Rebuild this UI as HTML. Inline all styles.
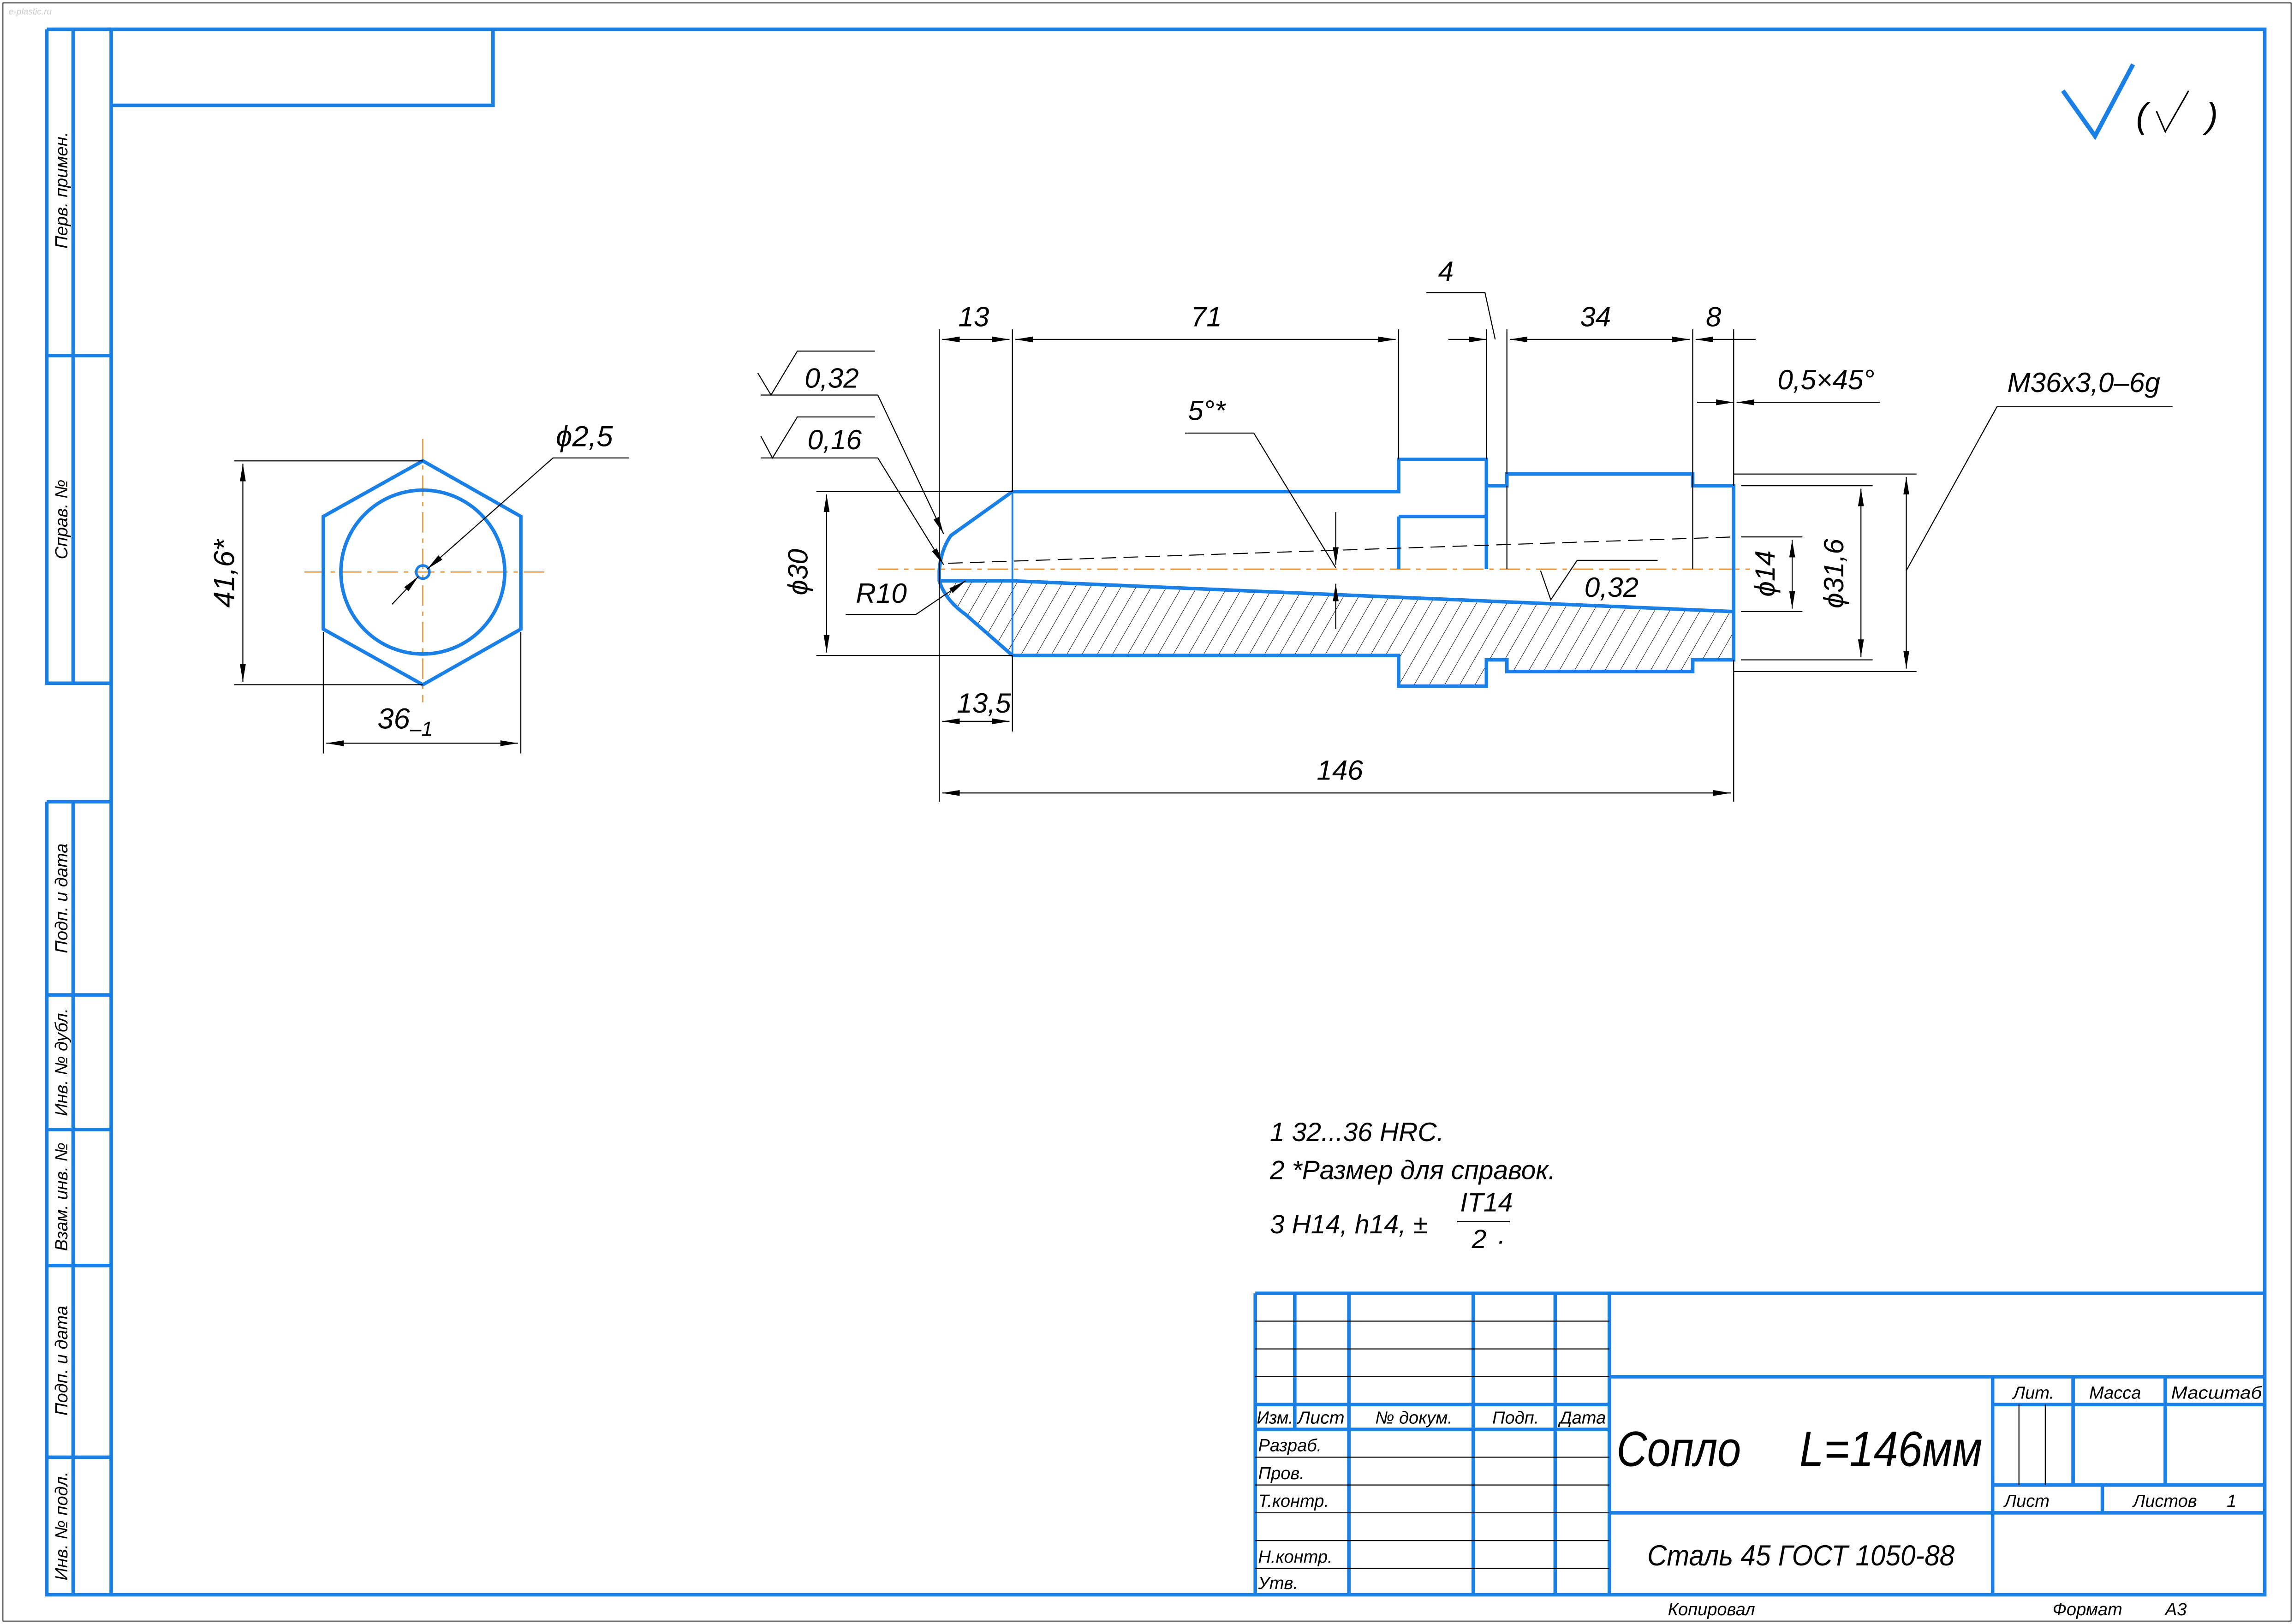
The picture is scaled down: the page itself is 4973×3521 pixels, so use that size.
<!DOCTYPE html>
<html><head><meta charset="utf-8"><style>
html,body{margin:0;padding:0;background:#fff;}
svg{display:block;}
text{font-family:"Liberation Sans",sans-serif;font-style:italic;fill:#000;}
</style></head><body>
<svg width="4973" height="3521" viewBox="0 0 1568 1110" preserveAspectRatio="none" xmlns="http://www.w3.org/2000/svg">
<defs>
<marker id="a" viewBox="0 0 12 4" refX="12" refY="2" markerWidth="12" markerHeight="4" markerUnits="userSpaceOnUse" orient="auto-start-reverse"><path d="M0,0 L12,2 L0,4 z" fill="#000"/></marker>
<pattern id="h" patternUnits="userSpaceOnUse" width="9" height="9" patternTransform="rotate(30)"><line x1="0" y1="0" x2="0" y2="9" stroke="#000" stroke-width="0.6"/></pattern>
<clipPath id="hc"><path d="M642,397 L692,397 L1185,418 L1185,451 L1157,451 L1157,459 L1030,459 L1030,451 L1016,451 L1016,469 L956,469 L956,448 L692,448 L660,420 Q645,405 642,397 Z"/></clipPath>
</defs>
<rect width="1568" height="1110" fill="#fff"/>
<rect x="2" y="2" width="1564" height="1106" fill="none" stroke="#000" stroke-width="0.6"/>
<g stroke="#1a80e6" stroke-width="2.4" fill="none">
<rect x="76" y="20" width="1472" height="1070"/>
<path d="M76,72 H337 V20"/>
<path d="M32,20 H76 M32,20 V467 H76 M50,20 V467 M32,243 H76"/>
<path d="M32,548 H76 M32,548 V1090 H76 M50,548 V1090 M32,680 H76 M32,772 H76 M32,865 H76 M32,996 H76"/>
<path d="M858,884 H1548 M858,884 V1090 M885,884 V977 M922,884 V1090 M1007,884 V1090 M1063,884 V1090 M1100,884 V1090"/>
<path d="M858,960 H1100 M858,977 H1100 M1100,941 H1548 M1100,1034 H1548 M1362,941 V1090 M1362,960 H1548 M1417,941 V1015 M1480,941 V1015 M1362,1015 H1548 M1437,1015 V1034"/>
<path d="M1410,62 L1432,93 L1458,44" stroke-width="3"/>
</g>
<g stroke="#000" stroke-width="0.7" fill="none">
<path d="M858,903 H1100 M858,922 H1100 M858,941 H1100 M858,996 H1100 M858,1015 H1100 M858,1034 H1100 M858,1053 H1100 M858,1072 H1100"/>
<path d="M1380,960 V1015 M1398,960 V1015"/>
<path d="M1474,76 L1480,90 L1496,62" stroke-width="1"/>
</g>
<text x="1460" y="87" font-size="24">(</text><text x="1508" y="87" font-size="24">)</text>
<g font-size="12">
<text transform="translate(46,130) rotate(-90)" text-anchor="middle">Перв. примен.</text>
<text transform="translate(46,355) rotate(-90)" text-anchor="middle">Справ. №</text>
<text transform="translate(46,614) rotate(-90)" text-anchor="middle">Подп. и дата</text>
<text transform="translate(46,726) rotate(-90)" text-anchor="middle">Инв. № дубл.</text>
<text transform="translate(46,818) rotate(-90)" text-anchor="middle">Взам. инв. №</text>
<text transform="translate(46,930) rotate(-90)" text-anchor="middle">Подп. и дата</text>
<text transform="translate(46,1043) rotate(-90)" text-anchor="middle">Инв. № подл.</text>
</g>
<g font-size="12">
<text x="859" y="973" textLength="25" lengthAdjust="spacingAndGlyphs">Изм.</text>
<text x="887" y="973" textLength="32" lengthAdjust="spacingAndGlyphs">Лист</text>
<text x="940" y="973">№ докум.</text>
<text x="1020" y="973">Подп.</text>
<text x="1066" y="973">Дата</text>
<text x="860" y="992">Разраб.</text>
<text x="860" y="1011">Пров.</text>
<text x="860" y="1030">Т.контр.</text>
<text x="860" y="1068">Н.контр.</text>
<text x="860" y="1086">Утв.</text>
<text x="1376" y="956">Лит.</text>
<text x="1428" y="956">Масса</text>
<text x="1484" y="956" textLength="62" lengthAdjust="spacingAndGlyphs">Масштаб</text>
<text x="1370" y="1030">Лист</text>
<text x="1458" y="1030">Листов</text><text x="1522" y="1030">1</text>
<text x="1140" y="1104">Копировал</text>
<text x="1403" y="1104">Формат</text><text x="1480" y="1104">А3</text>
</g>
<text x="1105" y="1002" font-size="34" textLength="85" lengthAdjust="spacingAndGlyphs">Сопло</text>
<text x="1230" y="1002" font-size="34" textLength="125" lengthAdjust="spacingAndGlyphs">L=146мм</text>
<text x="1126" y="1070" font-size="20" textLength="210" lengthAdjust="spacingAndGlyphs">Сталь 45 ГОСТ 1050-88</text>
<g font-size="18">
<text x="868" y="780">1  32...36 HRC.</text>
<text x="868" y="806">2  *Размер для справок.</text>
<text x="868" y="843">3  H14, h14, ±</text>
<text x="998" y="828">IT14</text>
<text x="1006" y="853">2</text><text x="1024" y="850">.</text>
</g>
<line x1="996" y1="835" x2="1032" y2="835" stroke="#000" stroke-width="0.8"/>
<g stroke="#e88a2a" stroke-width="0.8" stroke-dasharray="14,4,3,4" fill="none">
<path d="M208,391 H372 M289,300 V480"/>
<path d="M600,389 H1200"/>
</g>
<g stroke="#1a80e6" stroke-width="2.4" fill="none">
<path d="M289,315 L356,353 L356,430 L289,468 L221,430 L221,353 Z"/>
<circle cx="289" cy="391" r="56"/>
<circle cx="289" cy="391" r="4.5" stroke-width="1.8"/>
</g>
<g stroke="#000" stroke-width="0.7" fill="none">
<path d="M160,315 H289 M160,468 H289"/>
<path d="M166,317 V466" marker-start="url(#a)" marker-end="url(#a)"/>
<path d="M221,432 V515 M356,432 V515"/>
<path d="M223,508 H354" marker-start="url(#a)" marker-end="url(#a)"/>
<path d="M430,313 H378 L292,389" marker-end="url(#a)"/>
<path d="M268,413 L286,394" marker-end="url(#a)"/>
</g>
<text transform="translate(160,392) rotate(-90)" font-size="20" text-anchor="middle">41,6*</text>
<text x="258" y="498" font-size="20">36<tspan font-size="14" dy="5">–1</tspan></text>
<text x="380" y="305" font-size="20">ϕ2,5</text>
<rect x="630" y="390" width="570" height="90" fill="url(#h)" clip-path="url(#hc)"/>
<g stroke="#1a80e6" stroke-width="2.4" fill="none" stroke-linejoin="miter">
<path d="M692,336 H956 V314 H1016 V332 H1030 V324 H1157 V332 H1185 V451 H1157 V459 H1030 V451 H1016 V469 H956 V448 H692"/>
<path d="M692,336 L650,366 Q643,376 642,390 L642,397 Q646,410 660,420 L692,448"/>
<path d="M956,353 H1016 M956,353 V389 M1016,332 V389"/>
<path d="M642,397 H692 L1185,418"/>
<path d="M692,336 V448" stroke-width="1.2"/>
</g>
<g stroke="#000" stroke-width="0.7" fill="none">
<path d="M1030,332 V389 M1157,324 V389"/>
<path d="M648,385 L1185,367" stroke-dasharray="10,5"/>
<path d="M642,225 V548 M692,225 V336 M692,448 V500 M956,225 V314 M1016,225 V314 M1030,225 V324 M1157,225 V324 M1185,225 V332 M1185,451 V548"/>
<path d="M558,336 H692 M558,448 H692"/>
<path d="M1185,324 H1310 M1185,459 H1310 M1190,332 H1280 M1190,451 H1280 M1190,367 H1232 M1190,418 H1232"/>
<path d="M644,232 H690" marker-start="url(#a)" marker-end="url(#a)"/>
<path d="M694,232 H954" marker-start="url(#a)" marker-end="url(#a)"/>
<path d="M990,232 H1016" marker-end="url(#a)"/>
<path d="M1032,232 H1155" marker-start="url(#a)" marker-end="url(#a)"/>
<path d="M1159,232 H1200" marker-start="url(#a)"/>
<path d="M975,200 H1015 L1022,232"/>
<path d="M1160,275 H1185" marker-end="url(#a)"/>
<path d="M1285,275 H1187" marker-end="url(#a)"/>
<path d="M565,338 V446" marker-start="url(#a)" marker-end="url(#a)"/>
<path d="M1225,369 V416" marker-start="url(#a)" marker-end="url(#a)"/>
<path d="M1272,334 V449" marker-start="url(#a)" marker-end="url(#a)"/>
<path d="M1303,326 V457" marker-start="url(#a)" marker-end="url(#a)"/>
<path d="M1485,278 H1365 L1303,390"/>
<path d="M644,493 H690" marker-start="url(#a)" marker-end="url(#a)"/>
<path d="M644,542 H1183" marker-start="url(#a)" marker-end="url(#a)"/>
<path d="M913,350 V386" marker-end="url(#a)"/>
<path d="M913,430 V399" marker-end="url(#a)"/>
<path d="M810,296 H857 L913,388"/>
<path d="M518,255 L527,270 L545,240 H598 M520,270 H600"/>
<path d="M600,270 L645,365" marker-end="url(#a)"/>
<path d="M520,298 L528,313 L545,285 H598 M520,313 H600"/>
<path d="M600,313 L645,386" marker-end="url(#a)"/>
<path d="M1053,390 L1060,410 L1078,383 H1133"/>
<path d="M578,420 H626"/>
<path d="M626,420 L660,397" marker-end="url(#a)"/>
</g>
<g font-size="19">
<text x="655" y="223">13</text>
<text x="814" y="223">71</text>
<text x="983" y="192">4</text>
<text x="1080" y="223">34</text>
<text x="1166" y="223">8</text>
<text x="1215" y="266">0,5×45°</text>
<text x="1372" y="268">M36x3,0–6g</text>
<text x="550" y="265">0,32</text>
<text x="552" y="307">0,16</text>
<text x="812" y="287">5°*</text>
<text x="585" y="412">R10</text>
<text x="1083" y="408">0,32</text>
<text x="654" y="487">13,5</text>
<text x="900" y="533">146</text>
<text transform="translate(552,391) rotate(-90)" text-anchor="middle">ϕ30</text>
<text transform="translate(1213,392) rotate(-90)" text-anchor="middle">ϕ14</text>
<text transform="translate(1260,392) rotate(-90)" text-anchor="middle">ϕ31,6</text>
</g>
<text x="6" y="10" font-size="6" style="fill:#ccc">e-plastic.ru</text>
</svg>
</body></html>
